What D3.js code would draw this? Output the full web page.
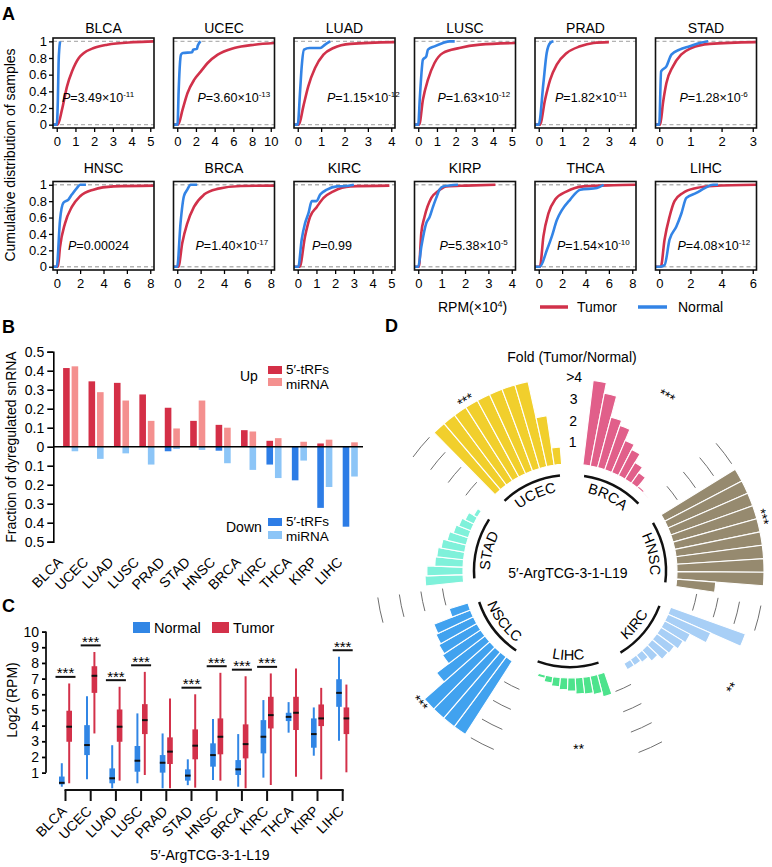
<!DOCTYPE html>
<html><head><meta charset="utf-8">
<script src="https://cdn.jsdelivr.net/npm/d3@7"></script>
<style>body{margin:0;background:#fff}svg{display:block;font-family:"Liberation Sans",Arial,Helvetica,sans-serif}</style>
</head><body><svg id="fig" width="772" height="867"></svg>
<script>
// ================= DATA =================
// Panel A: cumulative distributions (x in RPM x10^4, y cumulative fraction)
const cdfCancers = ["BLCA","UCEC","LUAD","LUSC","PRAD","STAD","HNSC","BRCA","KIRC","KIRP","THCA","LIHC"];
const cdfXMax  = [5,10,4,5,4,3,8,8,5,4,8,6];
const cdfXStep = [1,2,1,1,1,1,2,2,1,1,2,2];
const cdfPValues = ["3.49×10^-11","3.60×10^-13","1.15×10^-12","1.63×10^-12","1.82×10^-11","1.28×10^-6",
                    "0.00024","1.40×10^-17","0.99","5.38×10^-5","1.54×10^-10","4.08×10^-12"];
const tumorCDF = [
 [[0.05,0],[0.28,0.18],[0.55,0.46],[0.82,0.64],[1.18,0.80],[1.45,0.86],[1.98,0.92],[2.7,0.96],[4.1,0.99],[5.2,1]],
 [[0.1,0],[0.57,0.18],[1.1,0.38],[1.82,0.54],[2.53,0.64],[3.25,0.74],[4.33,0.84],[6.1,0.92],[8.26,0.96],[10.4,0.98]],
 [[0.05,0],[0.24,0.22],[0.45,0.46],[0.74,0.68],[1.1,0.84],[1.53,0.92],[2.25,0.97],[4.15,0.99]],
 [[0.05,0],[0.25,0.30],[0.52,0.54],[0.87,0.74],[1.32,0.86],[2.2,0.92],[3.3,0.96],[5.2,0.98]],
 [[0.05,0],[0.27,0.3],[0.49,0.54],[0.77,0.72],[1.2,0.86],[1.77,0.94],[2.35,0.98],[3.0,0.99]],
 [[0.03,0],[0.12,0.26],[0.23,0.5],[0.44,0.7],[0.7,0.84],[1.03,0.92],[1.62,0.97],[3.1,0.99]],
 [[0.1,0],[0.28,0.24],[0.71,0.53],[1.29,0.73],[2.0,0.86],[3.14,0.94],[4.87,0.98],[8.3,0.99]],
 [[0.1,0],[0.43,0.29],[0.86,0.53],[1.43,0.73],[2.29,0.88],[3.44,0.95],[5.44,0.985],[8.4,0.99]],
 [[0.1,0],[0.39,0.37],[0.66,0.61],[1.02,0.73],[1.38,0.84],[1.91,0.92],[2.8,0.98],[4.9,0.99]],
 [[0.03,0],[0.13,0.41],[0.27,0.61],[0.56,0.84],[0.84,0.92],[1.2,0.98],[2.06,0.99],[3.3,1]],
 [[0.1,0],[0.4,0.37],[0.83,0.65],[1.4,0.82],[2.4,0.92],[3.83,0.98],[6.4,0.995],[8.3,1]],
 [[0.1,0],[0.34,0.33],[0.66,0.61],[0.98,0.8],[1.52,0.9],[2.38,0.96],[3.45,0.985],[6.3,1]]
];
const normalCDF = [
 [[0.0,0],[0.06,0.3],[0.1,0.75],[0.14,0.92],[0.18,1]],
 [[0.03,0],[0.15,0.4],[0.3,0.75],[0.4,0.84],[0.6,0.86],[1.6,0.87],[1.7,0.9],[2.1,0.91],[2.2,0.95],[2.5,1]],
 [[0,0],[0.1,0.4],[0.17,0.70],[0.27,0.9],[0.5,0.92],[0.96,0.92],[1.17,0.96],[1.39,1]],
 [[0,0],[0.08,0.3],[0.16,0.58],[0.25,0.78],[0.43,0.82],[0.52,0.9],[0.87,0.94],[1.32,0.98],[1.68,1],[1.95,1]],
 [[0,0],[0.2,0.5],[0.34,0.86],[0.49,0.98],[0.63,1]],
 [[0,0],[0.06,0.64],[0.23,0.7],[0.39,0.84],[0.65,0.9],[0.98,0.94],[1.3,0.98],[1.57,1]],
 [[0,0],[0.28,0.57],[0.57,0.78],[1.0,0.82],[1.29,0.88],[1.72,0.96],[2.0,1],[2.5,1]],
 [[0,0],[0.28,0.53],[0.57,0.86],[0.86,0.94],[1.14,1],[1.7,1]],
 [[0.03,0],[0.21,0.33],[0.39,0.53],[0.57,0.65],[0.75,0.8],[1.0,0.8],[1.2,0.88],[1.56,0.94],[2.1,0.98],[2.63,0.985],[3.0,1]],
 [[0,0],[0.13,0.24],[0.34,0.53],[0.49,0.61],[0.63,0.73],[0.77,0.84],[0.91,0.94],[1.06,0.98],[1.7,1]],
 [[0.1,0],[0.69,0.2],[1.12,0.37],[1.55,0.57],[1.98,0.69],[2.69,0.82],[3.55,0.94],[4.98,0.96],[5.55,1]],
 [[0.02,0],[0.34,0.02],[0.66,0.33],[1.1,0.49],[1.42,0.65],[1.74,0.84],[2.38,0.9],[2.92,0.96],[3.45,1],[3.77,1]]
];

// Panel B: fraction of dysregulated snRNA
const bCats = ["BLCA","UCEC","LUAD","LUSC","PRAD","STAD","HNSC","BRCA","KIRC","THCA","KIRP","LIHC"];
const upTRF     = [0.414,0.344,0.336,0.275,0.205,0.136,0.115,0.087,0.031,0,0.017,0];
const upMiRNA   = [0.423,0.287,0.243,0.136,0.096,0.243,0.100,0.080,0.045,0.026,0.037,0.023];
const downTRF   = [0,0,0,0,0.024,0,0.021,0,0.094,0.177,0.322,0.421];
const downMiRNA = [0.024,0.064,0.035,0.094,0.012,0.017,0.087,0.122,0.165,0.073,0.212,0.157];
const bTicks = [-0.5,-0.4,-0.3,-0.2,-0.1,0,0.1,0.2,0.3,0.4,0.5];

// Panel C: box plots, [min, q1, median, q3, max] of log2(RPM)
const cCats = ["BLCA","UCEC","LUAD","LUSC","PRAD","STAD","HNSC","BRCA","KIRC","THCA","KIRP","LIHC"];
const cNormal = [[0.1,0.25,0.35,0.75,1.6],[0.57,2.12,2.76,4.03,5.88],[0.0,0.32,0.64,1.27,2.75],[0.32,1.06,1.76,2.7,4.78],
 [0,1.0,1.63,2.12,3.5],[0.2,0.49,0.81,1.21,1.85],[0.53,1.38,2.12,2.87,4.42],[0.1,0.85,1.21,1.8,3.46],
 [0.68,2.23,3.29,4.35,5.63],[3.55,4.29,4.56,4.82,5.5],[2.08,2.59,3.46,4.46,5.16],[3.04,5.2,6.09,6.96,8.39]];
const cTumor = [[0.32,2.97,3.93,4.95,6.69],[3.5,6.09,7.18,7.79,8.7],[0.49,2.97,3.93,5.03,6.48],[0.85,3.46,4.35,5.37,7.43],
 [0,1.55,2.34,3.25,5.73],[0.04,1.85,2.72,3.76,6.0],[0.49,2.17,3.29,4.46,7.37],[0,1.91,2.82,4.08,7.15],
 [0.21,3.82,4.67,5.84,7.33],[0.74,3.72,4.82,5.84,7.64],[0.57,3.97,4.46,5.35,6.41],[1.02,3.46,4.46,5.16,6.62]];
const cSig = ["***","***","***","***","","***","***","***","***","","","***"];
const cTicks = [1,2,3,4,5,6,7,8,9,10];

// Panel D: circular bar chart of fold (Tumor/Normal)
const dSegments = ["UCEC","BRCA","HNSC","KIRC","LIHC","NSCLC","STAD"];
const dFold = [
 [4,4,4,4,4,4,4,4,2.3,0.8],
 [3.9,3.4,2.4,2.15,1.6,1.35,0.9,0.6,0.1,0.02],
 [4,4,4,4,4,4,4,4,4,1.8],
 [3.65,2.15,1.33,1.2,1.0,0.95,0.67,0.43,0.35,0.33],
 [1.06,0.86,0.78,0.74,0.6,0.54,0.43,0.3,0.15,0.05],
 [4,4,4,4,2.8,2.1,2.0,1.9,1.8,0.9],
 [1.75,1.66,1.3,1.24,1.1,0.9,0.72,0.6,0.45,0.2]
];
const dSig = ["***","***","***","**","**","***",""];
const dRadialTicks = [1,2,3,4];
const dRadialLabels = ["1","2","3",">4"];

// ================= STYLE / LAYOUT =================
const RED="#d1314a", BLUE="#3384e6";
const svg = d3.select("#fig");
const txt = (x,y,s,size,opts={}) => {
  const t = svg.append("text").attr("x",x).attr("y",y).attr("font-size",size).text(s);
  if(opts.anchor) t.attr("text-anchor",opts.anchor);
  if(opts.weight) t.attr("font-weight",opts.weight);
  if(opts.rotate!==undefined) t.attr("transform",`rotate(${opts.rotate},${x},${y})`);
  return t;
};
txt(2,20,"A",18,{weight:"bold"});
txt(2,333,"B",18,{weight:"bold"});
txt(2,612,"C",18,{weight:"bold"});
txt(385,332,"D",18,{weight:"bold"});

// ---------- Panel A ----------
const colL=[53,173.5,294,414.5,535,655.5], rowT=[38,181.5], rowH=[90,88.5], boxW=101;
const titleY=[33,173], pY=[101.5,250];
const pOff=[9,24,33,23,20,24,15,22,18,25,22,22];
cdfCancers.forEach((c,i)=>{
  const r=Math.floor(i/6), k=i%6, L=colL[k], T=rowT[r], H=rowH[r], M=cdfXMax[i];
  const x=d3.scaleLinear().domain([-0.04*M,1.04*M]).range([L,L+boxW]);
  const y=d3.scaleLinear().domain([-0.04,1.04]).range([T+H,T]);
  const g=svg.append("g");
  const cid="clipA"+i;
  g.append("clipPath").attr("id",cid).append("rect").attr("x",L).attr("y",T).attr("width",boxW).attr("height",H);
  [0,1].forEach(v=>g.append("line").attr("x1",L).attr("x2",L+boxW).attr("y1",y(v)).attr("y2",y(v))
     .attr("stroke","#b3b3b3").attr("stroke-width",1.4).attr("stroke-dasharray","4,3"));
  const line=d3.line().x(d=>x(d[0])).y(d=>y(d[1])).curve(d3.curveMonotoneX);
  const pc=g.append("g").attr("clip-path",`url(#${cid})`);
  pc.append("path").datum([[-0.04*M,0],...tumorCDF[i]]).attr("d",line).attr("fill","none").attr("stroke",RED).attr("stroke-width",2.6);
  pc.append("path").datum([[-0.04*M,0],...normalCDF[i]]).attr("d",line).attr("fill","none").attr("stroke",BLUE).attr("stroke-width",2.6);
  g.append("rect").attr("x",L).attr("y",T).attr("width",boxW).attr("height",H).attr("fill","none").attr("stroke","#111").attr("stroke-width",1.6);
  const ax=g.append("g").attr("transform",`translate(0,${T+H})`)
    .call(d3.axisBottom(x).tickValues(d3.range(0,M+0.001,cdfXStep[i])).tickSize(4).tickPadding(5).tickFormat(d3.format("d")));
  ax.select(".domain").remove();
  ax.selectAll("text").attr("font-size",13).attr("font-family",null);
  ax.selectAll("line").attr("stroke-width",1.3);
  if(k===0){
    const ay=g.append("g").attr("transform",`translate(${L},0)`)
      .call(d3.axisLeft(y).tickValues([0,0.2,0.4,0.6,0.8,1]).tickSize(4).tickPadding(2).tickFormat(d=>String(d)));
    ay.select(".domain").remove();
    ay.selectAll("text").attr("font-size",13).attr("font-family",null);
    ay.selectAll("line").attr("stroke-width",1.3);
  }
  txt(L+boxW/2,titleY[r],c,14,{anchor:"middle"});
  const parts=cdfPValues[i].split("^");
  const pt=svg.append("text").attr("x",L+pOff[i]).attr("y",pY[r]).attr("font-size",12.5);
  pt.append("tspan").attr("font-style","italic").text("P");
  pt.append("tspan").text("="+parts[0]);
  if(parts[1]) pt.append("tspan").attr("font-size",8).attr("dy",-5).text(parts[1]);
});
txt(15,155,"Cumulative distribution of samples",14,{anchor:"middle",rotate:-90});
{
  const t=svg.append("text").attr("x",438).attr("y",312).attr("font-size",14);
  t.append("tspan").text("RPM(×10");
  t.append("tspan").attr("font-size",9).attr("dy",-5).text("4");
  t.append("tspan").attr("dy",5).text(")");
  svg.append("line").attr("x1",540).attr("x2",568).attr("y1",307).attr("y2",307).attr("stroke",RED).attr("stroke-width",3.5);
  txt(577,312,"Tumor",14);
  svg.append("line").attr("x1",638).attr("x2",667).attr("y1",307).attr("y2",307).attr("stroke",BLUE).attr("stroke-width",3.5);
  txt(678,312,"Normal",14);
}

// ---------- Panel B ----------
{
  const yB=d3.scaleLinear().domain([-0.5,0.5]).range([541.7,351.7]);
  const xB=d3.scaleBand().domain(bCats).range([58,363]);
  const g=svg.append("g");
  const cols={upT:"#d42f47",upM:"#f4908f",dnT:"#2d7de6",dnM:"#8cc5f7"};
  const bw=6.6;
  bCats.forEach((c,i)=>{
    const cx=xB(c)+xB.bandwidth()/2;
    const xl=cx-7.6, xr=cx+0.9;
    const bar=(x,v0,v1,col)=>{ if(Math.abs(v1-v0)<1e-9) return;
      g.append("rect").attr("x",x).attr("width",bw).attr("y",yB(Math.max(v0,v1))).attr("height",Math.abs(yB(v0)-yB(v1))).attr("fill",col);};
    bar(xl,0,upTRF[i],cols.upT);
    bar(xr,0,upMiRNA[i],cols.upM);
    bar(xl,0,-downTRF[i],cols.dnT);
    bar(xr,0,-downMiRNA[i],cols.dnM);
    txt(cx-7,563,c,14,{anchor:"end",rotate:-45});
  });
  g.append("line").attr("x1",53.3).attr("x2",363).attr("y1",yB(0)).attr("y2",yB(0)).attr("stroke","#000").attr("stroke-width",1.6);
  const ay=g.append("g").attr("transform","translate(53.3,0)")
    .call(d3.axisLeft(yB).tickValues(bTicks).tickSize(6).tickPadding(3).tickFormat(d=>d===0?"0":d3.format(".1f")(Math.abs(d))));
  ay.select(".domain").attr("stroke-width",1.6);
  ay.selectAll("line").attr("stroke-width",1.6);
  ay.selectAll("text").attr("font-size",14).attr("font-family",null);
  txt(16,447,"Fraction of dyregulated snRNA",14,{anchor:"middle",rotate:-90});
  // legend
  txt(240,381,"Up",14);
  g.append("rect").attr("x",268).attr("y",366).attr("width",14).attr("height",8).attr("fill",cols.upT);
  g.append("rect").attr("x",268).attr("y",378).attr("width",14).attr("height",8).attr("fill",cols.upM);
  txt(286,374,"5′-tRFs",13.5); txt(286,388.5,"miRNA",13.5);
  txt(226,532,"Down",14);
  g.append("rect").attr("x",268).attr("y",518).attr("width",14).attr("height",8).attr("fill",cols.dnT);
  g.append("rect").attr("x",268).attr("y",531).attr("width",14).attr("height",8).attr("fill",cols.dnM);
  txt(286,526,"5′-tRFs",13.5); txt(286,540.5,"miRNA",13.5);
}

// ---------- Panel C ----------
{
  const yC=d3.scaleLinear().domain([0,10]).range([788.3,631.6]);
  const xC=d3.scaleBand().domain(cCats).range([52.9,355.3]);
  const g=svg.append("g");
  const CN="#3186e5", CT="#d3314a", bw=5.6;
  const box=(cx,s,col)=>{
    g.append("line").attr("x1",cx).attr("x2",cx).attr("y1",yC(s[0])).attr("y2",yC(s[4])).attr("stroke",col).attr("stroke-width",2);
    g.append("rect").attr("x",cx-bw/2).attr("width",bw).attr("y",yC(s[3])).attr("height",yC(s[1])-yC(s[3])).attr("fill",col);
    g.append("line").attr("x1",cx-bw/2).attr("x2",cx+bw/2).attr("y1",yC(s[2])).attr("y2",yC(s[2])).attr("stroke","#111").attr("stroke-width",2);
  };
  cCats.forEach((c,i)=>{
    const cx=xC(c)+xC.bandwidth()/2;
    box(cx-3.7,cNormal[i],CN);
    box(cx+3.7,cTumor[i],CT);
    if(cSig[i]){
      const ly=yC(Math.max(cNormal[i][4],cTumor[i][4])+0.42);
      g.append("line").attr("x1",cx-10).attr("x2",cx+10).attr("y1",ly).attr("y2",ly).attr("stroke","#111").attr("stroke-width",2);
      txt(cx,ly+1.5,cSig[i],15,{anchor:"middle"});
    }
    g.append("line").attr("x1",cx).attr("x2",cx).attr("y1",790).attr("y2",801).attr("stroke","#111").attr("stroke-width",2);
    txt(cx+2,812,c,14,{anchor:"end",rotate:-45});
  });
  const x0=xC(cCats[0])+xC.bandwidth()/2, x1=xC(cCats[11])+xC.bandwidth()/2;
  g.append("line").attr("x1",x0-1).attr("x2",x1+1).attr("y1",790).attr("y2",790).attr("stroke","#111").attr("stroke-width",2);
  const ay=g.append("g").attr("transform","translate(46,0)")
    .call(d3.axisLeft(yC).tickValues(cTicks).tickSize(4).tickPadding(3).tickFormat(d3.format("d")));
  ay.select(".domain").remove();
  g.append("line").attr("x1",46).attr("x2",46).attr("y1",yC(1)).attr("y2",yC(10)).attr("stroke","#111").attr("stroke-width",1.8);
  ay.selectAll("line").attr("stroke-width",1.8);
  ay.selectAll("text").attr("font-size",14).attr("font-family",null);
  txt(17,700,"Log2 (RPM)",14,{anchor:"middle",rotate:-90});
  g.append("rect").attr("x",133).attr("y",622).attr("width",17).attr("height",11).attr("fill",CN);
  txt(154,633,"Normal",14.5);
  g.append("rect").attr("x",212).attr("y",622).attr("width",17).attr("height",11).attr("fill",CT);
  txt(233,633,"Tumor",14.5);
  txt(210,860,"5′-ArgTCG-3-1-L19",14,{anchor:"middle"});
}

// ---------- Panel D ----------
{
  const cx=570, cy=571;
  const rD=d3.scaleLinear().domain([0,4]).range([107,194]);
  const deg=Math.PI/180;
  const span=40*deg, pitch=2*Math.PI/7, start0=-44.5*deg;
  const segCols=["#f1cf2c","#e15f8a","#968a6f","#a8cff6","#4de38c","#41a2ef","#7ff1da"];
  const starOff=[-7,2,-4,-4,-4,-4,0];
  const g=svg.append("g").attr("transform",`translate(${cx},${cy})`);
  const defs=svg.append("defs");
  const P=(a,r)=>[r*Math.sin(a), -r*Math.cos(a)];
  const arcPath=(a0,a1,r,cw)=>{
    const p0=P(cw?a0:a1,r), p1=P(cw?a1:a0,r);
    return `M${p0[0]},${p0[1]}A${r},${r} 0 0 ${cw?1:0} ${p1[0]},${p1[1]}`;
  };
  const barArc=d3.arc();
  dSegments.forEach((s,i)=>{
    const a0=start0+i*pitch, a1=a0+span;
    const bs=d3.scaleBand().domain(d3.range(dFold[i].length)).range([a0,a1]);
    dFold[i].forEach((v,j)=>{
      g.append("path").attr("d",barArc({innerRadius:rD(0),outerRadius:rD(v),startAngle:bs(j),endAngle:bs(j)+bs.bandwidth()}))
        .attr("fill",segCols[i]).attr("stroke","#fff").attr("stroke-width",1.1);
    });
    g.append("path").attr("d",arcPath(a0+1.5*deg,a1-1.5*deg,96,true)).attr("fill","none").attr("stroke","#111").attr("stroke-width",2.5);
    const mid=(a0+a1)/2;
    const cw=Math.cos(mid)>0;
    const id="dlab"+i;
    defs.append("path").attr("id",id).attr("d",arcPath(a0-20*deg,a1+20*deg,cw?80:89,cw))
      .attr("transform",`translate(${cx},${cy})`);
    svg.append("text").attr("font-size",14.5).append("textPath").attr("href","#"+id)
      .attr("startOffset","50%").attr("text-anchor","middle").text(s);
    if(dSig[i]){
      const sa=mid+starOff[i]*deg;
      const rr=Math.min(rD(Math.min(d3.max(dFold[i])+2.2,4.5)),200);
      const p=P(sa,rr);
      let rot=sa/deg; if(Math.cos(sa)<0) rot-=180;
      g.append("text").attr("x",p[0]).attr("y",p[1]).attr("font-size",14).attr("text-anchor","middle")
        .attr("dominant-baseline","central").attr("transform",`rotate(${rot},${p[0]},${p[1]})`).text(dSig[i]);
    }
    if(i>0){
      const gc=a1+(pitch-span)/2;
      dRadialTicks.forEach(t=>{
        g.append("path").attr("d",arcPath(gc-3.8*deg,gc+3.8*deg,rD(t),true)).attr("fill","none").attr("stroke","#6f6f6f").attr("stroke-width",1);
      });
    }
  });
  const topA=start0+span+(pitch-span)/2;
  dRadialTicks.forEach((t,k)=>{
    const p=P(topA,rD(t));
    g.append("text").attr("x",p[0]).attr("y",p[1]).attr("font-size",14).attr("text-anchor","middle")
      .attr("dominant-baseline","central").text(dRadialLabels[k]);
  });
  txt(572,362,"Fold (Tumor/Normal)",14,{anchor:"middle"});
  txt(cx-2,578,"5′-ArgTCG-3-1-L19",14,{anchor:"middle"});
}
</script></body></html>
